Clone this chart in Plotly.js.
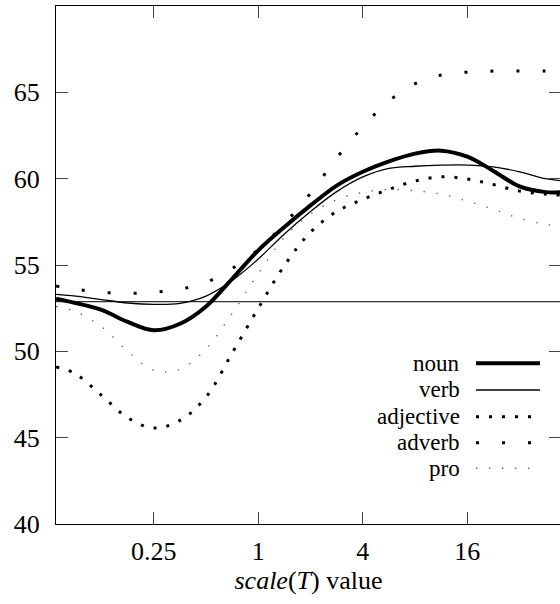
<!DOCTYPE html>
<html>
<head>
<meta charset="utf-8">
<script src="https://cdn.plot.ly/plotly-3.0.1.min.js"></script>
<style>
  html, body { margin: 0; padding: 0; overflow: hidden; background: #fff; }
  #chart { width: 561px; height: 604px; }
  #preload { position: absolute; left: 100px; top: 20px; font-family: "Liberation Serif"; font-size: 26px; color: #fff; }
</style>
</head>
<body>
<div id="preload">noun <i>scale</i> 0.25</div>
<div id="chart"></div>
<script>
// x positions: scale(T) values (log axis)
const scaleValues = [0.0684, 0.0884, 0.125, 0.177, 0.25, 0.354, 0.5, 0.707, 1, 1.414, 2, 2.83, 4, 5.66, 8, 11.3, 16, 22.6, 32, 45.3, 54.9];

const nounValues      = [53.05, 52.8, 52.4, 51.7, 51.22, 51.6, 52.6, 54.2, 55.85, 57.2, 58.45, 59.6, 60.4, 61.0, 61.45, 61.62, 61.27, 60.45, 59.55, 59.22, 59.22];
const verbValues      = [53.3, 53.2, 53.0, 52.8, 52.72, 52.78, 53.2, 54.1, 55.35, 56.8, 58.1, 59.25, 60.1, 60.6, 60.72, 60.78, 60.79, 60.68, 60.4, 60.0, 59.88];
const adjectiveValues = [49.1, 48.7, 47.45, 46.15, 45.56, 46.0, 47.35, 49.9, 52.5, 54.97, 56.9, 58.1, 58.8, 59.38, 59.86, 60.11, 59.98, 59.66, 59.28, 59.1, 59.05];
const adverbValues    = [53.78, 53.6, 53.42, 53.36, 53.42, 53.6, 54.0, 54.8, 55.9, 57.4, 59.15, 61.2, 63.0, 64.5, 65.5, 66.0, 66.17, 66.23, 66.23, 66.23, 66.23];
const proValues       = [52.6, 52.3, 51.42, 50.0, 48.9, 48.96, 50.15, 52.2, 54.5, 56.6, 57.95, 58.78, 59.2, 59.37, 59.3, 59.1, 58.7, 58.23, 57.7, 57.35, 57.26];
const baselineX = [0.0684, 54.9];
const baselineValue = [52.88, 52.88];

const seriesNames = ["noun", "verb", "adjective", "adverb", "pro"];
const xTickVals = [0.25, 1, 4, 16];
const xTickText = ["0.25", "1", "4", "16"];
const yTickVals = [40, 45, 50, 55, 60, 65];

const styles = {
  noun:      {color: "#000", width: 4,   dash: "solid"},
  verb:      {color: "#000", width: 1.3, dash: "solid"},
  adjective: {color: "#000", width: 3,   dash: "3px,10px"},
  adverb:    {color: "#000", width: 3,   dash: "3px,23px"},
  pro:       {color: "#666", width: 1.4, dash: "1.4px,11.6px"}
};
const values = {noun: nounValues, verb: verbValues, adjective: adjectiveValues, adverb: adverbValues, pro: proValues};

const traces = [{
  x: baselineX, y: baselineValue, mode: "lines", showlegend: false, hoverinfo: "skip",
  line: {color: "#333", width: 1.2}
}];
seriesNames.forEach(n => {
  traces.push({
    x: scaleValues, y: values[n], name: n, mode: "lines", showlegend: false,
    line: {color: styles[n].color, width: styles[n].width, dash: styles[n].dash, shape: "spline", smoothing: 1}
  });
});

function mkFont(size) { return {family: "Liberation Serif", size: size || 26}; }

// gnuplot-style key: label on the left, line sample on the right
const legendRowsY = [0.3102, 0.2587, 0.2071, 0.157, 0.1075];
const annotations = [];
const shapes = [];
seriesNames.forEach((n, i) => {
  annotations.push({
    xref: "paper", yref: "paper", x: 0.8034, y: legendRowsY[i], xanchor: "right", yanchor: "middle",
    text: n, showarrow: false, font: mkFont(23)
  });
  shapes.push({
    type: "line", xref: "paper", yref: "paper", x0: 0.8317, x1: 0.9584, y0: legendRowsY[i], y1: legendRowsY[i],
    line: {color: styles[n].color, width: styles[n].width, dash: styles[n].dash}
  });
});

const layout = {
  width: 561, height: 604,
  margin: {l: 56, r: 0, t: 6, b: 80},
  paper_bgcolor: "#fff", plot_bgcolor: "#fff",
  font: {family: "Liberation Serif", size: 26, color: "#000"},
  showlegend: false,
  xaxis: {
    type: "log", range: [-1.1655, 1.744],
    tickvals: xTickVals, ticktext: xTickText,
    ticks: "inside", ticklen: 12, tickwidth: 1, tickcolor: "#444",
    showline: true, linecolor: "#000", linewidth: 1, mirror: "allticks",
    showgrid: false, zeroline: false,
    ticklabelstandoff: 4,
    tickfont: mkFont(26),
    title: {text: "<i>scale</i>(<i>T</i>) value", font: mkFont(26), standoff: 2}
  },
  yaxis: {
    range: [40, 70],
    tickvals: yTickVals,
    ticks: "inside", ticklen: 12, tickwidth: 1, tickcolor: "#444",
    showline: true, linecolor: "#000", linewidth: 1, mirror: "allticks",
    showgrid: false, zeroline: false,
    ticklabelstandoff: 10,
    tickfont: mkFont(26)
  },
  annotations: annotations,
  shapes: shapes
};

Plotly.newPlot("chart", traces, layout, {staticPlot: true, displayModeBar: false});
</script>
</body>
</html>
